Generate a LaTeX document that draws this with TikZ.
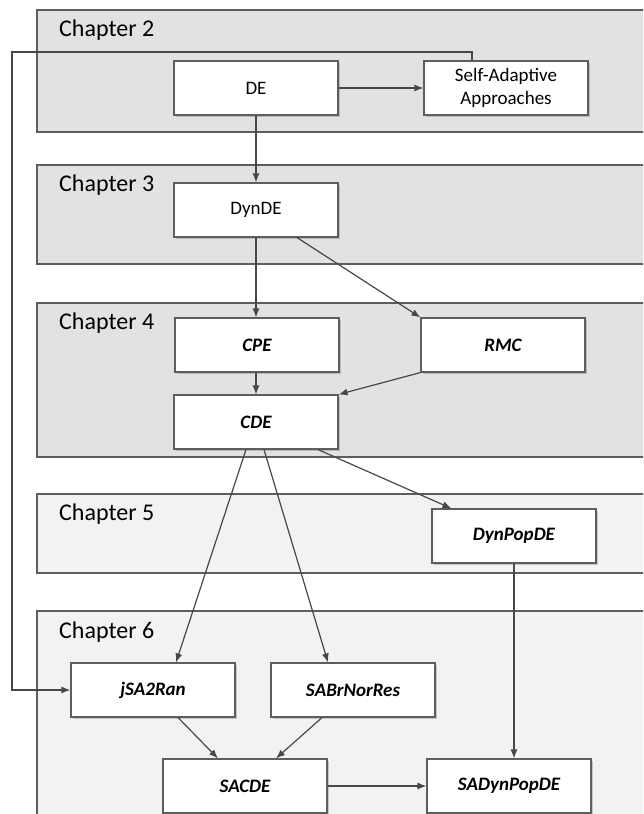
\documentclass[tikz,border=0pt]{standalone}
\usepackage{fontspec}
\setmainfont{Carlito}
\usetikzlibrary{arrows.meta,calc,shadows}
\definecolor{chdark}{HTML}{E2E2E2}
\definecolor{chlight}{HTML}{F2F2F2}
\definecolor{chborder}{HTML}{5E5E5E}
\definecolor{linecol}{HTML}{474747}
\tikzset{
  chapterbox/.style={draw=chborder, line width=1.3pt},
  chapterlabel/.style={anchor=base west, inner sep=0pt, font=\fontsize{24}{28}\selectfont},
  procbox/.style={draw=chborder, fill=white, line width=1.1pt, minimum width=164pt, minimum height=54pt,
    inner sep=0pt, align=center, font=\fontsize{19}{23}\selectfont,
    drop shadow={shadow xshift=1.5pt, shadow yshift=-1.5pt, fill=black, opacity=0.18}},
  newbox/.style={procbox, font=\fontsize{19}{23}\selectfont\bfseries\itshape},
  conn/.style={draw=linecol, line width=1.2pt, -{Latex[length=9pt,width=7pt]}}
}
\begin{document}
\begin{tikzpicture}[x=1pt,y=-1pt]
\useasboundingbox (0,0) rectangle (643,814);
\clip (0,0) rectangle (643,814);
% chapters
\path[chapterbox, fill=chdark] (37,10) rectangle (670,132);
\path[chapterbox, fill=chdark] (37,165) rectangle (670,264);
\path[chapterbox, fill=chdark] (37,303) rectangle (670,457);
\path[chapterbox, fill=chlight] (37,494) rectangle (670,573);
\path[chapterbox, fill=chlight] (37,611) rectangle (670,840);
\node[chapterlabel] (l2) at (59,36) {Chapter 2};
\node[chapterlabel] (l3) at (59,191) {Chapter 3};
\node[chapterlabel] (l4) at (59,329) {Chapter 4};
\node[chapterlabel] (l5) at (59,520) {Chapter 5};
\node[chapterlabel] (l6) at (59,638) {Chapter 6};
% nodes
\node[procbox] (DE) at (256,88) {DE};
\node[procbox] (SA) at (506,88) {Self-Adaptive\\Approaches};
\node[procbox] (DynDE) at (256,210) {DynDE};
\node[newbox] (CPE) at (257,345) {CPE};
\node[newbox] (RMC) at (503,345) {RMC};
\node[newbox] (CDE) at (256,422) {CDE};
\node[newbox] (DynPopDE) at (514,536) {DynPopDE};
\node[newbox] (jSA) at (153,690) {jSA2Ran};
\node[newbox] (SAB) at (353,690) {SABrNorRes};
\node[newbox] (SACDE) at (245,786) {SACDE};
\node[newbox] (SADyn) at (509,786) {SADynPopDE};
% connectors
\coordinate (fbtop) at (12,52);
\draw[conn] (DE.south) -- (DynDE.north);
\draw[conn] (DE.east) -- (SA.west);
\draw[conn] (DynDE.south) -- (CPE.north -| DynDE.south);
\draw[conn] ($(DynDE.south)+(41,0)$) -- (RMC.north west);
\draw[conn] (CPE.south -| CDE.north) -- (CDE.north);
\draw[conn] (RMC.south west) -- (CDE.north east);
\draw[conn] ($(CDE.south)+(-10,0)$) -- ($(jSA.north)+(23,0)$);
\draw[conn] ($(CDE.south)+(8,0)$) -- ($(SAB.north)+(-25,0)$);
\draw[conn] ($(CDE.south)+(62,0)$) -- ($(DynPopDE.north west)+(20,0)$);
\draw[conn] (DynPopDE.south) -- (DynPopDE.south |- SADyn.north);
\draw[conn] ($(jSA.south)+(25,0)$) -- ($(SACDE.north)+(-27,0)$);
\draw[conn] ($(SAB.south)+(-31,0)$) -- ($(SACDE.north)+(31,0)$);
\draw[conn] (SACDE.east) -- (SADyn.west);
\draw[conn] ($(SA.north)+(-34,0)$) |- (fbtop) |- (jSA.west);
\end{tikzpicture}
\end{document}
